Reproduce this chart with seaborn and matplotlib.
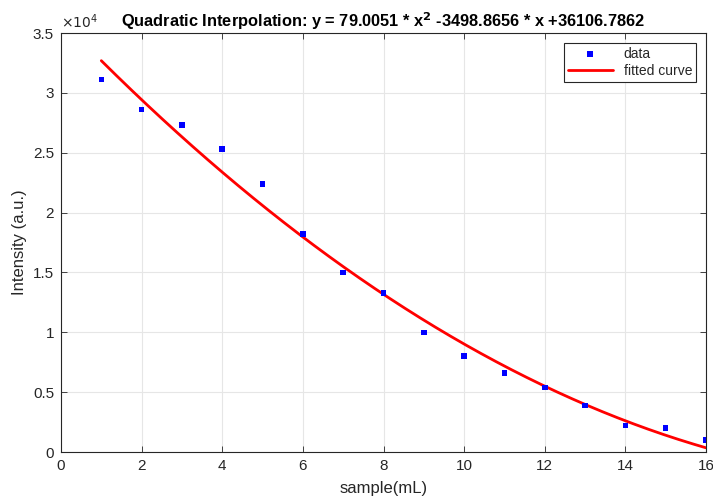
import numpy as np
import pandas as pd
import matplotlib
matplotlib.use("Agg")
import matplotlib.pyplot as plt
import seaborn as sns
from matplotlib.ticker import FuncFormatter, MultipleLocator

sample = [1, 2, 3, 4, 5, 6, 7, 8, 9, 10, 11, 12, 13, 14, 15, 16]
intensity = [31100, 28600, 27300, 25300, 22400, 18200, 15000, 13300,
             10000, 8000, 6600, 5400, 3900, 2200, 2000, 1000]
coef_a = 79.0051
coef_b = -3498.8656
coef_c = 36106.7862

sns.set_theme(style="whitegrid")
plt.rcParams['font.family'] = ['Liberation Sans', 'DejaVu Sans']

df = pd.DataFrame({"sample": sample, "intensity": intensity})
xf = np.linspace(min(sample), max(sample), 200)
fit = pd.DataFrame({"sample": xf, "intensity": coef_a * xf**2 + coef_b * xf + coef_c})

fig = plt.figure(figsize=(7.13, 4.98), dpi=100)
ax = fig.add_axes([61/713, 1 - 452/498, 645/713, 419/498])

sns.scatterplot(data=df, x="sample", y="intensity", ax=ax, marker="s", s=16,
                color="#0000ff", edgecolor="none", label="data", zorder=3)
sns.lineplot(data=fit, x="sample", y="intensity", ax=ax, color="#ff0000",
             linewidth=2, label="fitted curve", zorder=2)

ax.set_xlim(0, 16)
ax.set_ylim(0, 35000)
ax.xaxis.set_major_locator(MultipleLocator(2))
ax.yaxis.set_major_locator(MultipleLocator(5000))
ax.yaxis.set_major_formatter(FuncFormatter(lambda v, p: f"{v/1e4:g}"))

ax.set_facecolor("white")
ax.grid(True, color="#e6e6e6", linewidth=0.8)
for s in ax.spines.values():
    s.set_visible(True)
    s.set_color("#262626")
    s.set_linewidth(0.8)
ax.tick_params(axis="both", direction="in", length=4, width=0.6, color="#262626",
               labelsize=11, labelcolor="#262626", top=True, right=True,
               left=True, bottom=True, pad=5)

ax.set_xlabel("sample(mL)", fontsize=12, color="#262626", labelpad=6)
ax.set_ylabel("Intensity (a.u.)", fontsize=12, color="#262626", labelpad=4)
ax.set_title("Quadratic Interpolation: y = 79.0051 * x$^{\\mathbf{2}}$ -3498.8656 * x +36106.7862",
             fontsize=11.8, fontweight="bold", color="black", pad=4)
ax.text(0.0, 1.005, r"$\times10^{4}$", transform=ax.transAxes, fontsize=10,
        color="#262626", ha="left", va="bottom")

leg = ax.legend(loc="upper right", fontsize=10, frameon=True, fancybox=False,
                framealpha=1, edgecolor="#262626", borderpad=0.3,
                handlelength=3.2, labelspacing=0.2, borderaxespad=0.7)
leg.get_frame().set_linewidth(0.8)

fig.savefig("out.png", dpi=100)
